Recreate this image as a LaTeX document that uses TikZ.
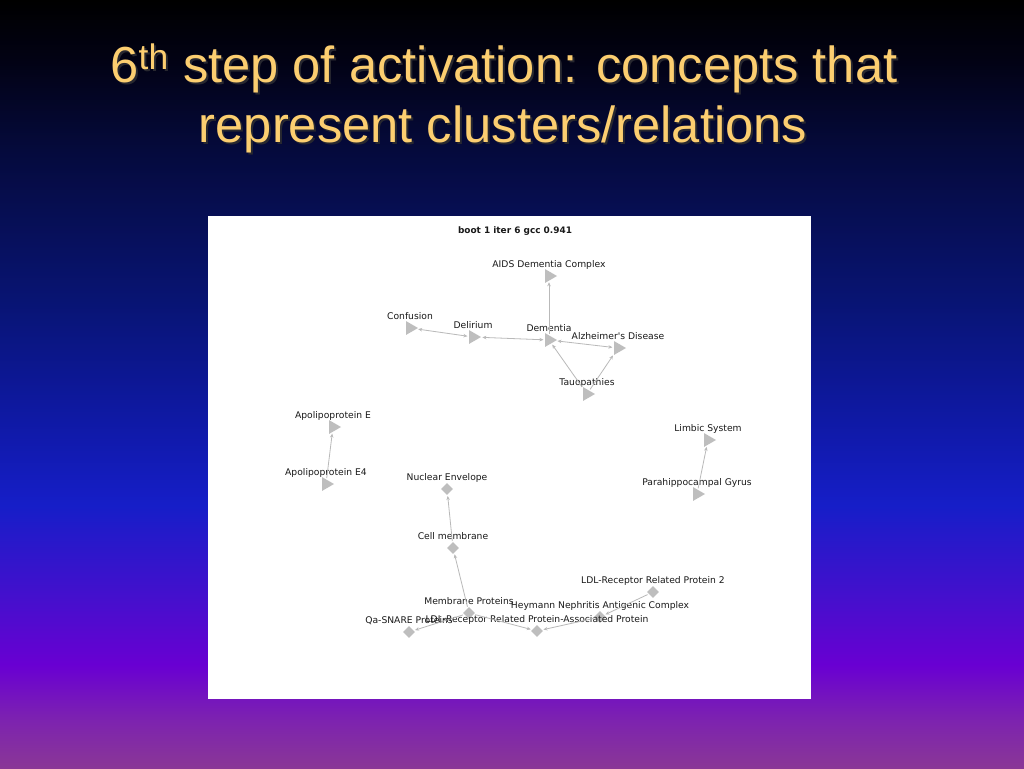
\documentclass[tikz,border=0pt]{standalone}
\usepackage{fontspec}
\setmainfont{Liberation Sans}
\newfontfamily\graphfont{DejaVu Sans}
\usepackage{xcolor}
\usepackage{tikz}
\definecolor{titleorange}{RGB}{252, 206, 112}
\definecolor{titleshadow}{RGB}{40, 40, 48}
\definecolor{markgray}{RGB}{190, 190, 190}
\definecolor{linkgray}{RGB}{185, 185, 185}
\definecolor{labelgray}{RGB}{25, 25, 25}
\definecolor{bgA}{RGB}{138, 55, 150}
\definecolor{bgB}{RGB}{125, 35, 175}
\definecolor{bgC}{RGB}{105, 0, 210}
\definecolor{bgD}{RGB}{70, 15, 205}
\definecolor{bgE}{RGB}{22, 30, 200}
\definecolor{bgF}{RGB}{15, 25, 165}
\definecolor{bgG}{RGB}{8, 20, 115}
\definecolor{bgH}{RGB}{5, 10, 60}
\definecolor{bgI}{RGB}{2, 2, 20}
\definecolor{bgJ}{RGB}{0, 0, 0}
\usetikzlibrary{shapes.geometric, arrows.meta, positioning}
\pgfdeclareverticalshading{slidebg}{100bp}{color(0bp)=(bgA); color(25bp)=(bgA);
  color(28.1bp)=(bgB); color(31.7bp)=(bgC); color(35.95bp)=(bgD); color(42.1bp)=(bgE);
  color(47.65bp)=(bgF); color(55.45bp)=(bgG); color(65.25bp)=(bgH); color(71.1bp)=(bgI);
  color(75bp)=(bgJ); color(100bp)=(bgJ)}

\begin{document}
\begin{tikzpicture}[
    x=0.75pt, y=-0.75pt,
    titletxt/.style={font=\fontsize{38}{45}\selectfont, text=titleorange,
                     anchor=base, inner sep=0pt},
    shadowtxt/.style={titletxt, text=titleshadow},
    tri/.style={isosceles triangle, isosceles triangle apex angle=60,
                fill=markgray, draw=none, inner sep=0pt,
                minimum width=9pt, minimum height=9pt},
    dia/.style={diamond, fill=markgray, draw=none, inner sep=0pt,
                minimum width=9pt, minimum height=9pt},
    lbl/.style={font=\graphfont\fontsize{6.9}{8}\selectfont, text=labelgray,
                inner sep=0pt, text height=5pt, text depth=1.5pt},
    link/.style={draw=linkgray, line width=0.6pt, shorten <=1pt, shorten >=1pt},
    arr/.style={-{Stealth[length=3pt, width=2.6pt]}},
    biarr/.style={{Stealth[length=3pt, width=2.6pt]}-{Stealth[length=3pt, width=2.6pt]}}
]
    \shade[shading=slidebg] (0,0) rectangle (1024,768);
    \fill[white] (208,216) rectangle (811,699);

    \node[shadowtxt] (title1s) at (506,84) {6\textsuperscript{th} step of activation: concepts that};
    \node[titletxt] (title1) at (504,82) {6\textsuperscript{th} step of activation: concepts that};
    \node[shadowtxt] (title2s) at (505,144) {represent clusters/relations};
    \node[titletxt] (title2) at (503,142) {represent clusters/relations};

    \node[font=\graphfont\bfseries\fontsize{6.7}{8}\selectfont, text=labelgray] (hdr) at (515,231) {boot 1 iter 6 gcc 0.941};

    \node[tri] (aids) at (549,276) {};
    \node[tri] (conf) at (410,328) {};
    \node[tri] (deli) at (473,337) {};
    \node[tri] (dem) at (549,340) {};
    \node[tri] (alz) at (618,348) {};
    \node[tri] (tau) at (587,394) {};
    \node[tri] (apoe) at (333,427) {};
    \node[tri] (apoef) at (326,484) {};
    \node[tri] (limb) at (708,440) {};
    \node[tri] (para) at (697,494) {};
    \node[dia] (nuc) at (447,489) {};
    \node[dia] (cell) at (453,548) {};
    \node[dia] (memb) at (469,613) {};
    \node[dia] (qa) at (409,632) {};
    \node[dia] (ldlap) at (537,631) {};
    \node[dia] (heym) at (600,617) {};
    \node[dia] (ldl2) at (653,592) {};

    \node[lbl, above=5pt of aids.center] (aidsL) {AIDS Dementia Complex};
    \node[lbl, above=5pt of conf.center] (confL) {Confusion};
    \node[lbl, above=5pt of deli.center] (deliL) {Delirium};
    \node[lbl, above=5pt of dem.center] (demL) {Dementia};
    \node[lbl, above=5pt of alz.center] (alzL) {Alzheimer's Disease};
    \node[lbl, above=5pt of tau.center] (tauL) {Tauopathies};
    \node[lbl, above=5pt of apoe.center] (apoeL) {Apolipoprotein E};
    \node[lbl, above=5pt of apoef.center] (apoefL) {Apolipoprotein E4};
    \node[lbl, above=5pt of limb.center] (limbL) {Limbic System};
    \node[lbl, above=5pt of para.center] (paraL) {Parahippocampal Gyrus};
    \node[lbl, above=5pt of nuc.center] (nucL) {Nuclear Envelope};
    \node[lbl, above=5pt of cell.center] (cellL) {Cell membrane};
    \node[lbl, above=5pt of memb.center] (membL) {Membrane Proteins};
    \node[lbl, above=5pt of qa.center] (qaL) {Qa-SNARE Proteins};
    \node[lbl, above=5pt of ldlap.center] (ldlapL) {LDL-Receptor Related Protein-Associated Protein};
    \node[lbl, above=5pt of heym.center] (heymL) {Heymann Nephritis Antigenic Complex};
    \node[lbl, above=5pt of ldl2.center] (ldl2L) {LDL-Receptor Related Protein 2};

    \foreach \src/\dst in {conf/deli, deli/dem, dem/alz}
        \draw[link, biarr] (\src) -- (\dst);
    \foreach \src/\dst in {dem/aids, tau/dem, tau/alz, apoef/apoe, para/limb,
                           cell/nuc, memb/cell, memb/qa, memb/ldlap, heym/ldlap, ldl2/heym}
        \draw[link, arr] (\src) -- (\dst);
\end{tikzpicture}
\end{document}
